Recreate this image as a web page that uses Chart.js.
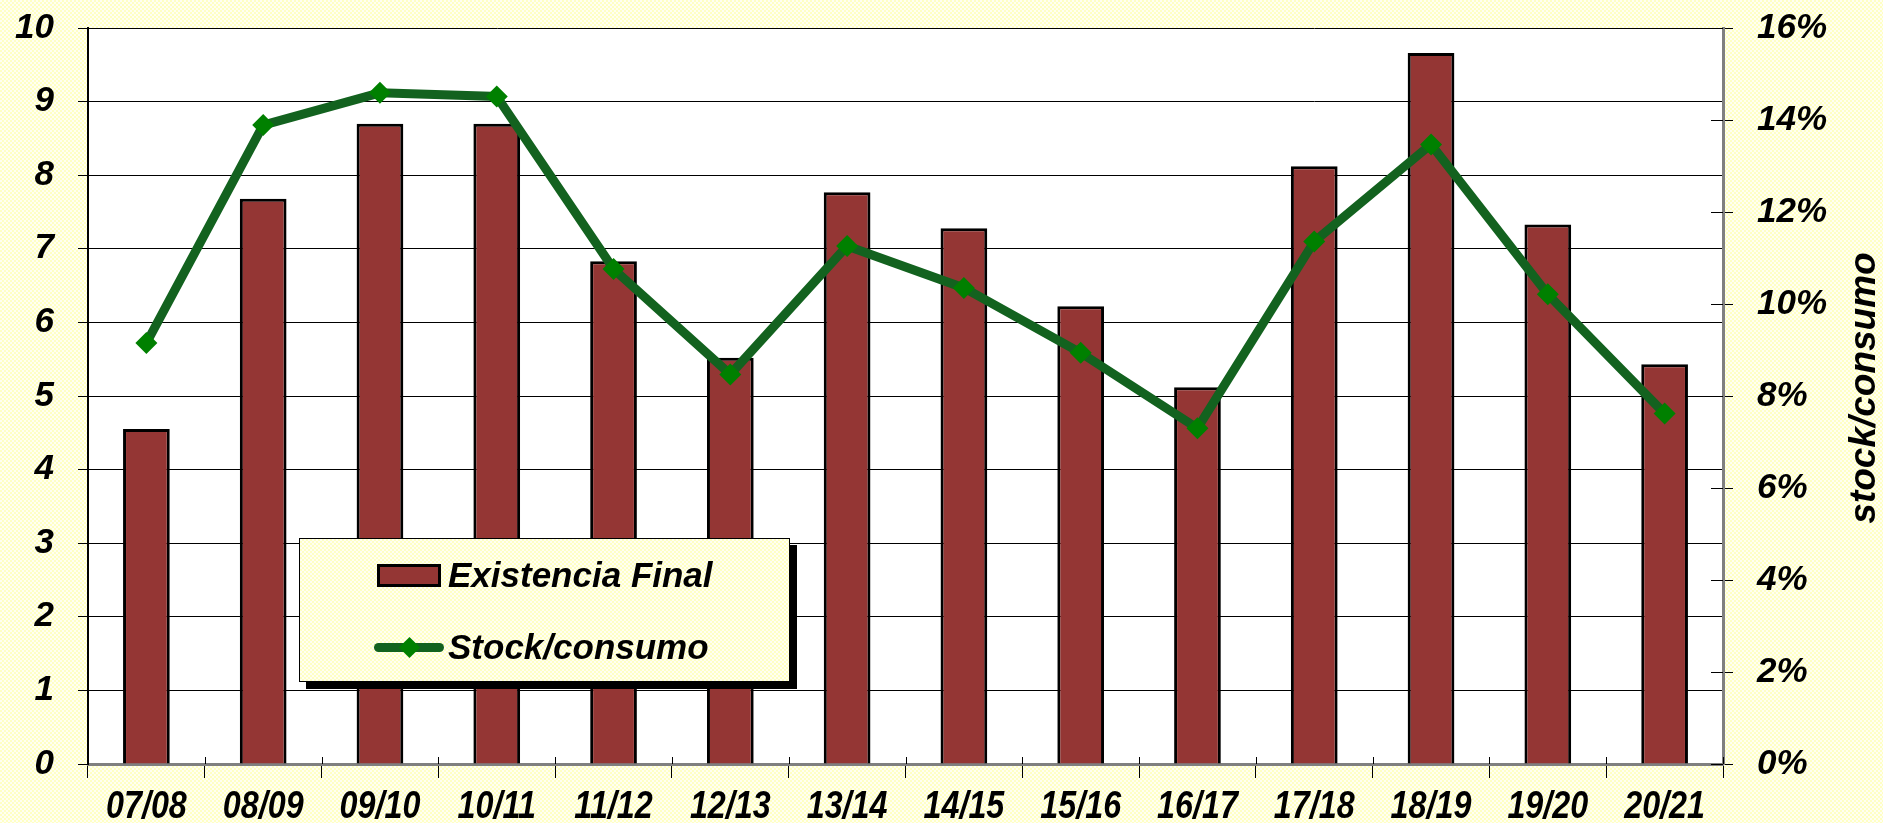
<!DOCTYPE html>
<html>
<head>
<meta charset="utf-8">
<script src="https://cdn.jsdelivr.net/npm/chart.js@4.4.1/dist/chart.umd.min.js"></script>
<style>
  html, body { margin: 0; padding: 0; }
  body {
    width: 1883px; height: 823px; overflow: hidden;
    background: repeating-conic-gradient(#ffffc4 0 25%, #fffff2 0 50%) 0 0 / 4px 4px;
  }
  #wrap { position: relative; width: 1883px; height: 823px; }
  #legend {
    position: absolute; left: 299px; top: 538px; width: 489px; height: 142px;
    border: 1px solid #000; box-shadow: 7px 7px 0 #000;
    background: repeating-conic-gradient(#ffffc4 0 25%, #fffff2 0 50%) 0 0 / 4px 4px;
    font-family: "Liberation Sans", Arial, sans-serif; font-weight: bold; font-style: italic;
    font-size: 35px; color: #000;
  }
  .item { position: absolute; left: 74px; height: 40px; display: flex; align-items: center; }
  .sw { position: relative; width: 70px; height: 40px; margin-right: 4px; }
  .bar-sw { position: absolute; left: 3px; top: 9px; width: 58px; height: 17px; border: 3px solid #000; }
  .line-sw { position: absolute; left: 0; top: 16px; width: 70px; height: 9px; border-radius: 5px; }
  .dot-sw { position: absolute; left: 28px; top: 13px; width: 15px; height: 15px; transform: rotate(45deg); }
</style>
</head>
<body>
<div id="wrap">
  <canvas id="chart" width="1883" height="823"></canvas>
  <div id="legend"></div>
</div>
<script>
const categories = ["07/08", "08/09", "09/10", "10/11", "11/12", "12/13", "13/14",
  "14/15", "15/16", "16/17", "17/18", "18/19", "19/20", "20/21"];
const existenciaFinal = [4.55, 7.68, 8.70, 8.70, 6.83, 5.52, 7.77, 7.28, 6.22, 5.12, 8.12, 9.66, 7.33, 5.43];
const stockConsumo = [9.15, 13.89, 14.59, 14.51, 10.76, 8.47, 11.26, 10.35, 8.94, 7.30, 11.36, 13.47, 10.21, 7.62];
const leftTicks = [0, 10, 1];    // min, max, step
const rightTicks = [0, 16, 2];   // percent
const rightTitle = "stock/consumo";

const barColor = "#943634";
const lineColor = "#13621f";
const markColor = "#008000";

const tickFont = { family: "'Liberation Sans', Arial, sans-serif", size: 35, weight: "bold", style: "italic" };

//white plot area, category labels (condensed), inner halves of crossing ticks, right title
const plotDeco = {
  id: "plotDeco",
  beforeDraw(chart) {
    const a = chart.chartArea, ctx = chart.ctx;
    ctx.save();
    ctx.fillStyle = "#fff";
    ctx.fillRect(a.left, a.top, a.right - a.left, a.bottom - a.top);
    ctx.restore();
  },
  afterDraw(chart) {
    const ctx = chart.ctx, a = chart.chartArea;
    const x = chart.scales.x, y1 = chart.scales.y1;
    ctx.save();
    ctx.strokeStyle = "#000";
    ctx.lineWidth = 1;
    ctx.beginPath();
    const n = categories.length;
    for (let i = 0; i <= n; i++) {
      const px = Math.round(a.left + i * (a.right - a.left) / n) + 0.5;
      ctx.moveTo(px, a.bottom);
      ctx.lineTo(px, a.bottom - 7);
    }
    y1.ticks.forEach((t, i) => {
      const py = Math.round(y1.getPixelForTick(i)) + 0.5;
      ctx.moveTo(a.right, py);
      ctx.lineTo(a.right - 12, py);
    });
    ctx.stroke();
    ctx.restore();

    //category labels, narrow like the original
    ctx.save();
    ctx.font = "italic bold 38px 'Liberation Sans', Arial, sans-serif";
    ctx.fillStyle = "#000";
    ctx.textAlign = "center";
    ctx.textBaseline = "middle";
    chart.data.labels.forEach((lab, i) => {
      const px = x.getPixelForValue(i);
      ctx.save();
      ctx.translate(px, a.bottom + 44);
      ctx.scale(0.85, 1);
      ctx.fillText(lab, 0, 0);
      ctx.restore();
    });
    ctx.restore();

    // right axis title, reading bottom to top
    ctx.save();
    ctx.translate(1865, 388);
    ctx.rotate(-Math.PI / 2);
    ctx.font = "italic bold 37px 'Liberation Sans', Arial, sans-serif";
    ctx.fillStyle = "#000";
    ctx.textAlign = "center";
    ctx.textBaseline = "middle";
    ctx.fillText(rightTitle, 0, 0);
    ctx.restore();
  }
};

const fitSide = (w) => (s) => { s.width = w; s.paddingTop = 0; s.paddingBottom = 0; };

const chart = new Chart(document.getElementById("chart"), {
  type: "bar",
  data: {
    labels: categories,
    datasets: [
      {
        type: "line",
        label: "Stock/consumo",
        data: stockConsumo,
        yAxisID: "y1",
        borderColor: lineColor,
        borderWidth: 9,
        pointStyle: "rectRot",
        pointRadius: 11,
        pointBackgroundColor: markColor,
        pointBorderColor: markColor,
        pointBorderWidth: 0,
        tension: 0,
        order: 1
      },
      {
        type: "bar",
        label: "Existencia Final",
        data: existenciaFinal,
        yAxisID: "y",
        backgroundColor: barColor,
        borderColor: "#000",
        borderWidth: 3,
        categoryPercentage: 1,
        barPercentage: 0.4,
        order: 2
      }
    ]
  },
  options: {
    responsive: false,
    animation: false,
    layout: { padding: { top: 28, left: 0, right: 0, bottom: 0 } },
    plugins: { legend: { display: false }, tooltip: { enabled: false } },
    scales: {
      x: {
        grid: { drawOnChartArea: false, color: "#000", tickLength: 14, offset: true },
        border: { color: "#808080", width: 3 },
        ticks: { display: false },
        afterFit(s) { s.height = 59; s.paddingLeft = 0; s.paddingRight = 0; }
      },
      y: {
        position: "left",
        min: leftTicks[0], max: leftTicks[1],
        grid: { color: "#000", lineWidth: 1, tickLength: 10 },
        border: { color: "#000", width: 2 },
        ticks: { stepSize: leftTicks[2], color: "#000", font: tickFont, padding: 24 },
        afterFit: fitSide(88)
      },
      y1: {
        position: "right",
        min: rightTicks[0], max: rightTicks[1],
        grid: { drawOnChartArea: false, color: "#000", tickLength: 10 },
        border: { color: "#808080", width: 3 },
        ticks: { stepSize: rightTicks[2], color: "#000", font: tickFont, padding: 24,
          callback: (v) => v + "%" },
        afterFit: fitSide(160)
      }
    }
  },
  plugins: [plotDeco]
});

//legend built from the chart datasets, in the reference's order
const legend = document.getElementById("legend");
const order = [1, 0];
order.forEach((di, row) => {
  const ds = chart.data.datasets[di];
  const item = document.createElement("div");
  item.className = "item";
  item.style.top = (row === 0 ? 16 : 88) + "px";
  const sw = document.createElement("div");
  sw.className = "sw";
  if (ds.type === "bar") {
    sw.innerHTML = `<div class="bar-sw" style="background:${ds.backgroundColor}"></div>`;
  } else {
    sw.innerHTML = `<div class="line-sw" style="background:${ds.borderColor}"></div>` +
      `<div class="dot-sw" style="background:${ds.pointBackgroundColor}"></div>`;
  }
  const txt = document.createElement("span");
  txt.textContent = ds.label;
  item.appendChild(sw);
  item.appendChild(txt);
  legend.appendChild(item);
});
</script>
</body>
</html>
